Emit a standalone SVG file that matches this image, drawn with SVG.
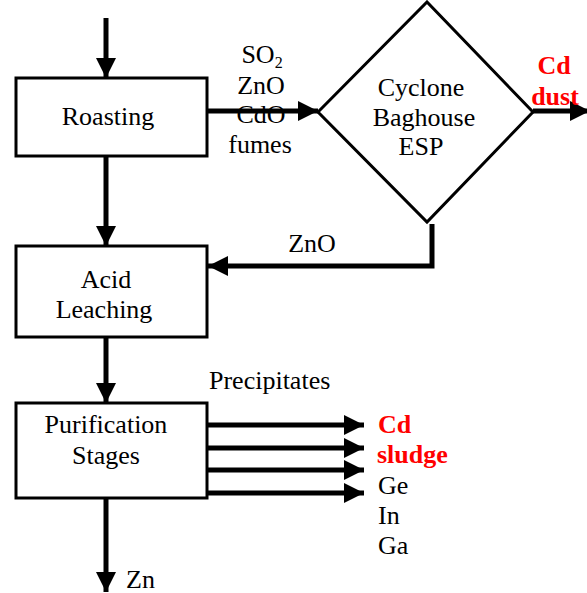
<svg xmlns="http://www.w3.org/2000/svg" width="587" height="593" viewBox="0 0 587 593">
<defs>
<style>
.box{fill:#fff;stroke:#000;stroke-width:3}
.ln{fill:none;stroke:#000;stroke-width:5}
.t{font-family:'Liberation Serif','DejaVu Serif',serif;font-size:26px;fill:#000}
.c{text-anchor:middle}
.red{fill:#ff0000;font-weight:bold}
</style>
<marker id="ah" markerUnits="userSpaceOnUse" markerWidth="20" markerHeight="20" viewBox="0 0 20 20" refX="20" refY="10" orient="auto">
<path d="M0,0 L20,10 L0,20 Z" fill="#000"/>
</marker>
</defs>
<g id="connectors">
<line class="ln" x1="106" y1="18" x2="106" y2="78" marker-end="url(#ah)"/>
<line class="ln" x1="106" y1="156" x2="106" y2="246" marker-end="url(#ah)"/>
<line class="ln" x1="106" y1="337" x2="106" y2="403" marker-end="url(#ah)"/>
<line class="ln" x1="106" y1="498" x2="106" y2="592" marker-end="url(#ah)"/>
<line class="ln" x1="207" y1="111" x2="318" y2="111" marker-end="url(#ah)"/>
<line class="ln" x1="533" y1="111" x2="590" y2="111" marker-end="url(#ah)"/>
<polyline class="ln" points="432,224 432,266 208,266" marker-end="url(#ah)"/>
<line class="ln" x1="207" y1="425" x2="364" y2="425" marker-end="url(#ah)"/>
<line class="ln" x1="207" y1="448" x2="364" y2="448" marker-end="url(#ah)"/>
<line class="ln" x1="207" y1="470" x2="364" y2="470" marker-end="url(#ah)"/>
<line class="ln" x1="207" y1="493" x2="364" y2="493" marker-end="url(#ah)"/>
</g>
<g id="roasting" class="t">
<rect class="box" x="16" y="78" width="191" height="78"/>
<text class="c" x="108" y="125">Roasting</text>
</g>
<g id="acid-leaching" class="t">
<rect class="box" x="16" y="246" width="191" height="91"/>
<text class="c" x="106" y="288">Acid</text>
<text class="c" x="104" y="318">Leaching</text>
</g>
<g id="purification" class="t">
<rect class="box" x="16" y="403" width="191" height="95"/>
<text class="c" x="106" y="433">Purification</text>
<text class="c" x="106" y="464">Stages</text>
</g>
<g id="separator" class="t">
<polygon class="box" points="318,112 427,2 533,112 427,222"/>
<text class="c" x="421" y="96">Cyclone</text>
<text class="c" x="424" y="126">Baghouse</text>
<text class="c" x="421" y="155">ESP</text>
</g>
<g id="labels" class="t">
<text class="c" x="262" y="63">SO<tspan font-size="16" dy="5">2</tspan></text>
<text class="c" x="261" y="94">ZnO</text>
<text class="c" x="261" y="123">CdO</text>
<text class="c" x="260" y="153">fumes</text>
<text class="c red" x="554" y="74">Cd</text>
<text class="c red" x="555" y="105">dust</text>
<text class="c" x="312" y="252">ZnO</text>
<text x="209" y="389">Precipitates</text>
<text class="red" x="378" y="433">Cd</text>
<text class="red" x="377" y="463">sludge</text>
<text x="378" y="494">Ge</text>
<text x="378" y="524">In</text>
<text x="378" y="554">Ga</text>
<text x="126" y="588">Zn</text>
</g>
</svg>
